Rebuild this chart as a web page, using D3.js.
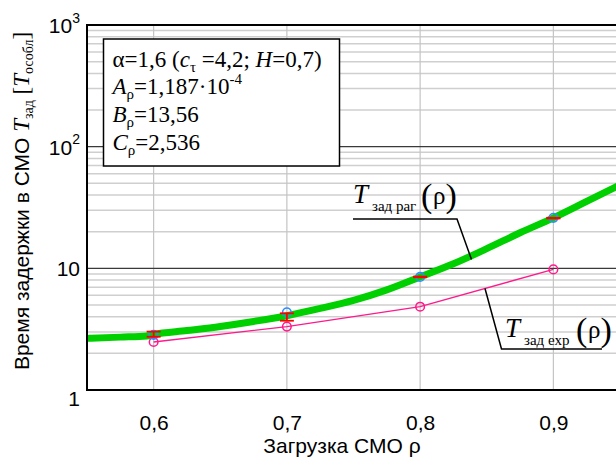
<!DOCTYPE html>
<html><head><meta charset="utf-8">
<script src="https://cdn.jsdelivr.net/npm/d3@7"></script>
<style>
html,body{margin:0;padding:0;background:#fff;}
svg{display:block;}
</style></head>
<body><svg id="c" width="616" height="468"></svg>
<script>
// ---------- data ----------
const xTicks = [0.6, 0.7, 0.8, 0.9];
const xTickLabels = ["0,6", "0,7", "0,8", "0,9"];
const yTicks = [1, 10, 100, 1000];
const yTickLabels = [["1",""], ["10",""], ["10","2"], ["10","3"]];
// fitted (regression) curve T_зад раг(ρ)
const rhoFit = [0.552, 0.575, 0.595, 0.60, 0.625, 0.65, 0.675, 0.70, 0.725, 0.75, 0.775, 0.80, 0.825, 0.85, 0.875, 0.90, 0.925, 0.95];
const tFit   = [2.66, 2.72, 2.78, 2.86, 3.08, 3.33, 3.66, 4.08, 4.68, 5.45, 6.65, 8.5, 10.9, 14.5, 19.6, 26.0, 35.5, 48.5];
// simulation points
const rhoPts = [0.6, 0.7, 0.8, 0.9];
const tSim   = [2.84, 4.35, 8.5, 26.0];
const errLow = [2.74, 3.71, 8.45, 25.7];
const errHigh= [3.02, 4.27, 8.55, 26.0];
// exponential model T_зад exp(ρ)
const tExp   = [2.48, 3.32, 4.84, 9.8];

// ---------- layout ----------
const W = 616, H = 468;
const L = 87, R = 620, T = 25, B = 390;
const svg = d3.select("#c");
const x = d3.scaleLinear().domain([0.55, 0.95]).range([L, R]);
const y = d3.scaleLog().domain([1, 1000]).range([B, T]);
const serif = "Liberation Serif, Tinos, DejaVu Serif, Noto Serif, serif";
const sans = "Liberation Sans, Arimo, Arial, sans-serif";

svg.append("defs").append("clipPath").attr("id","clip")
  .append("rect").attr("x",L).attr("y",T).attr("width",R-L).attr("height",B-T);

// minor horizontal grid
const minor = [];
[1,10,100].forEach(d => { for (let k=2;k<=9;k++) minor.push(d*k); });
const grid = svg.append("g");
grid.selectAll(".hm").data(minor).enter().append("line")
  .attr("x1",L).attr("x2",W).attr("y1",d=>y(d)).attr("y2",d=>y(d))
  .attr("stroke","#cfcfcf").attr("stroke-width",1.5);
grid.selectAll(".v").data(xTicks).enter().append("line")
  .attr("x1",d=>x(d)).attr("x2",d=>x(d)).attr("y1",T).attr("y2",B)
  .attr("stroke","#c4c4c4").attr("stroke-width",1.2);
grid.selectAll(".hM").data([10,100]).enter().append("line")
  .attr("x1",L).attr("x2",W).attr("y1",d=>y(d)).attr("y2",d=>y(d))
  .attr("stroke","#3a3a3a").attr("stroke-width",1.2);

// plot content
const plot = svg.append("g").attr("clip-path","url(#clip)");
const fitLine = d3.line().x((d,i)=>x(rhoFit[i])).y(d=>y(d)).curve(d3.curveMonotoneX);
plot.append("path").datum(tFit).attr("d",fitLine)
  .attr("fill","none").attr("stroke","#00d000").attr("stroke-width",7)
  .attr("stroke-linecap","round").attr("stroke-linejoin","round");

const expLine = d3.line().x((d,i)=>x(rhoPts[i])).y(d=>y(d));
plot.append("path").datum(tExp).attr("d",expLine)
  .attr("fill","none").attr("stroke","#ff1a8c").attr("stroke-width",1.4);
plot.selectAll(".pe").data(tExp).enter().append("circle")
  .attr("cx",(d,i)=>x(rhoPts[i])).attr("cy",d=>y(d)).attr("r",4.3)
  .attr("fill","none").attr("stroke","#ff1a8c").attr("stroke-width",1.5);

plot.selectAll(".ps").data(tSim).enter().append("circle")
  .attr("cx",(d,i)=>x(rhoPts[i])).attr("cy",d=>y(d)).attr("r",4.3)
  .attr("fill","none").attr("stroke","#2f8cff").attr("stroke-width",1.6);

const eb = plot.selectAll(".eb").data(rhoPts).enter().append("g");
eb.append("line").attr("x1",d=>x(d)).attr("x2",d=>x(d))
  .attr("y1",(d,i)=>y(errLow[i])).attr("y2",(d,i)=>y(errHigh[i]))
  .attr("stroke","#ff0000").attr("stroke-width",1.8);
eb.append("line").attr("x1",d=>x(d)-7).attr("x2",d=>x(d)+7)
  .attr("y1",(d,i)=>y(errLow[i])).attr("y2",(d,i)=>y(errLow[i]))
  .attr("stroke","#ff0000").attr("stroke-width",1.8);
eb.append("line").attr("x1",d=>x(d)-7).attr("x2",d=>x(d)+7)
  .attr("y1",(d,i)=>y(errHigh[i])).attr("y2",(d,i)=>y(errHigh[i]))
  .attr("stroke","#ff0000").attr("stroke-width",1.8);

// axes
const xAxis = svg.append("g").attr("transform",`translate(0,${B})`)
  .call(d3.axisBottom(x).tickValues(xTicks).tickSize(0).tickPadding(24)
    .tickFormat((d,i)=>xTickLabels[i]));
xAxis.select(".domain").remove();
xAxis.selectAll("text").attr("font-family",sans).attr("font-size",21).attr("fill","#000")
  .attr("dy",null).attr("y",39.5);

const yAxis = svg.append("g").attr("transform",`translate(${L},0)`)
  .call(d3.axisLeft(y).tickValues(yTicks).tickSize(0).tickPadding(7).tickFormat(()=>""));
yAxis.select(".domain").remove();
yAxis.selectAll(".tick text").each(function(d,i){
  const t = d3.select(this).attr("font-family",sans).attr("font-size",21).attr("fill","#000")
    .attr("dy", d === 1 ? "0.72em" : "0.36em");
  const lab = yTickLabels[i];
  t.append("tspan").text(lab[0]);
  if (lab[1]) t.append("tspan").attr("font-size",14).attr("dy","-0.75em").text(lab[1]);
});

// frame lines
svg.append("line").attr("x1",L).attr("x2",W).attr("y1",T).attr("y2",T).attr("stroke","#000").attr("stroke-width",2);
svg.append("line").attr("x1",L).attr("x2",L).attr("y1",T-1).attr("y2",B+1).attr("stroke","#000").attr("stroke-width",2);
svg.append("line").attr("x1",L).attr("x2",W).attr("y1",B).attr("y2",B).attr("stroke","#000").attr("stroke-width",2);

// axis titles
svg.append("text").attr("x",342).attr("y",452.5).attr("text-anchor","middle")
  .attr("font-family",sans).attr("font-size",21).text("Загрузка СМО ρ");

const yt = svg.append("text").attr("transform","translate(28.5,201) rotate(-90)")
  .attr("text-anchor","middle").attr("font-family",sans).attr("font-size",21);
yt.append("tspan").text("Время задержки в СМО ");
yt.append("tspan").attr("font-family",serif).attr("font-style","italic").attr("font-size",23).text("T");
yt.append("tspan").attr("font-family",serif).attr("font-size",14).attr("dy",4).text("зад");
yt.append("tspan").attr("font-family",serif).attr("font-size",23).attr("dy",-4).text(" [");
yt.append("tspan").attr("font-family",serif).attr("font-style","italic").attr("font-size",23).text("T");
yt.append("tspan").attr("font-family",serif).attr("font-size",14).attr("dy",4).text("особл");
yt.append("tspan").attr("font-family",serif).attr("font-size",23).attr("dy",-4).text("]");

// info box
svg.append("rect").attr("x",103.5).attr("y",39).attr("width",236).attr("height",127)
  .attr("fill","#fff").attr("stroke","#000").attr("stroke-width",1.5);
const box = svg.append("g").attr("font-family",serif).attr("font-size",23);
function line(yy, parts){
  const t = box.append("text").attr("x",112.5).attr("y",yy).attr("font-family",serif);
  parts.forEach(p=>{
    const s = t.append("tspan").text(p.t);
    if (p.i) s.attr("font-style","italic");
    if (p.sub){ s.attr("font-size",15).attr("dy",5); }
    if (p.sup){ s.attr("font-size",15).attr("dy",-10); }
    if (p.back) s.attr("dy",p.back);
  });
}
line(66.5,[{t:"α=1,6 ("},{t:"c",i:1},{t:"τ",sub:1},{t:" =4,2; ",back:-5},{t:"H",i:1},{t:"=0,7)"}]);
line(94,[{t:"A",i:1},{t:"ρ",sub:1},{t:"=1,187·10",back:-5},{t:"-4",sup:1}]);
line(121.5,[{t:"B",i:1},{t:"ρ",sub:1},{t:"=13,56",back:-5}]);
line(149.5,[{t:"C",i:1},{t:"ρ",sub:1},{t:"=2,536",back:-5}]);

// leader lines
svg.append("path").attr("d","M353,219 L457,219 L471.5,259.5")
  .attr("fill","none").attr("stroke","#000").attr("stroke-width",1.5);
svg.append("path").attr("d","M485,288.5 L501.5,349 L602,349")
  .attr("fill","none").attr("stroke","#000").attr("stroke-width",1.5);

// curve labels
function curveLabel(x0, yb, sub, subW){
  const g = svg.append("g").attr("font-family",serif);
  g.append("text").attr("x",x0).attr("y",yb).attr("font-size",27).attr("font-style","italic").text("T");
  g.append("text").attr("x",x0+19).attr("y",yb+8).attr("font-size",15).text(sub);
  const px = x0+19+subW+3;
  g.append("text").attr("x",px).attr("y",yb+4).attr("font-size",34).text("(");
  g.append("text").attr("x",px+12).attr("y",yb+1).attr("font-size",25).text("ρ");
  g.append("text").attr("x",px+24.5).attr("y",yb+4).attr("font-size",34).text(")");
}
curveLabel(353, 203, "зад раг", 46);
curveLabel(505, 337, "зад exp", 49);
</script></body></html>
